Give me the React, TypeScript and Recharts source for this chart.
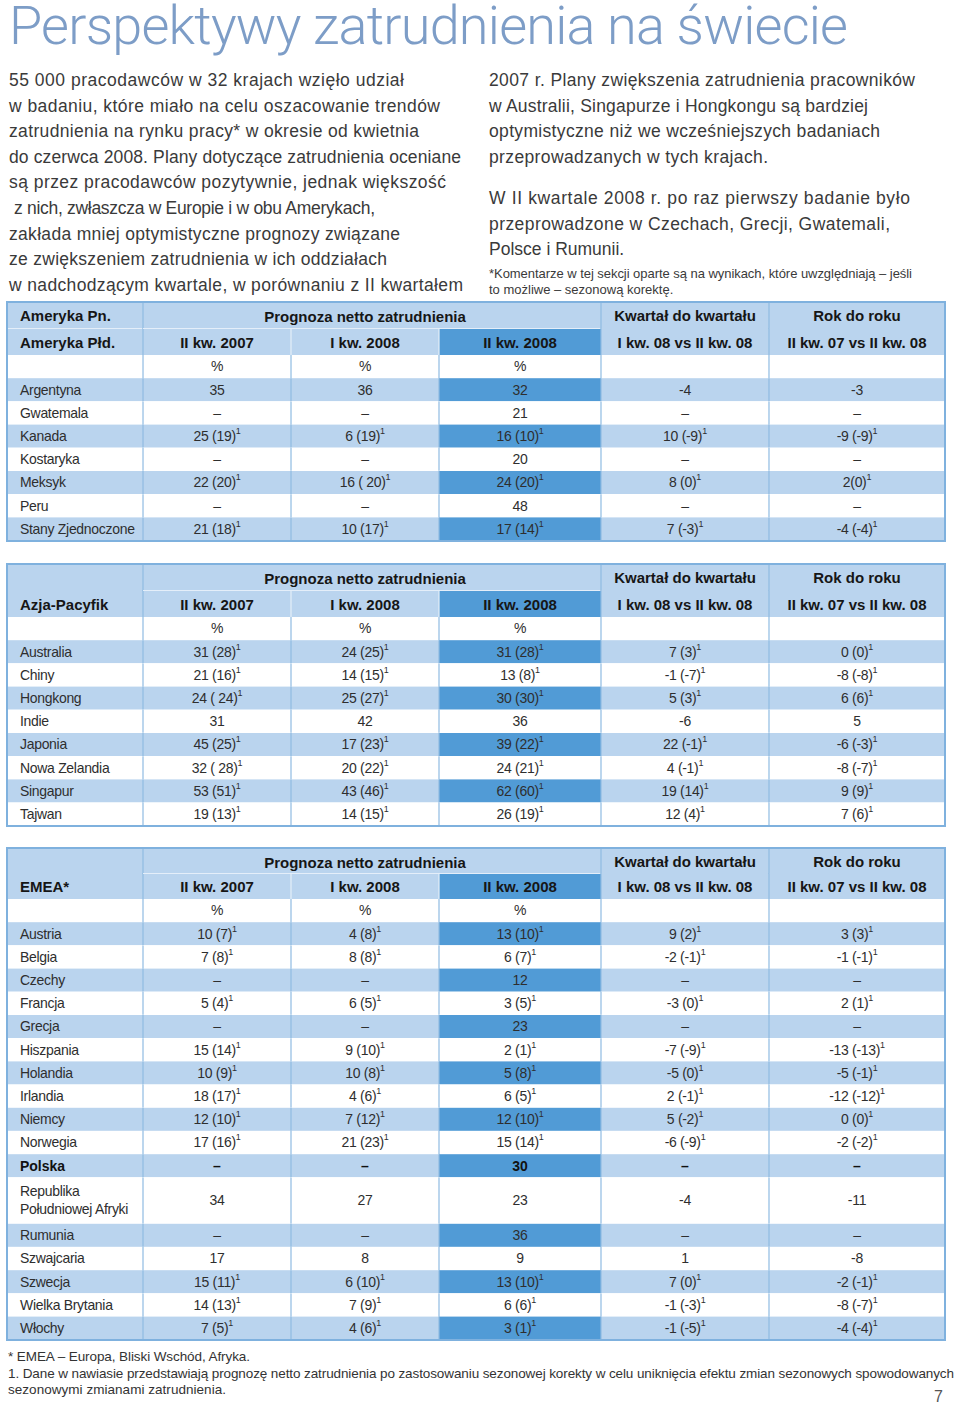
import React from "react";
import { BarChart, Bar, XAxis, YAxis } from "recharts";

const FONT = '"Liberation Sans", Arial, sans-serif';
const LIGHT = "#bad4ee";
const DARK = "#519bd6";
const GRID = "#8fbbe2";
const BORDER = "#7fb1de";
const INK = "#2e2e2e";

const COL_W = [136, 148, 148, 162, 168, 176];
const TOTAL_W = COL_W.reduce((s, w) => s + w, 0);
const ROW_H = 23.2;

// naglowki tabel
const forecastTitle = "Prognoza netto zatrudnienia";
const periodLabels = ["II kw. 2007", "I kw. 2008", "II kw. 2008"];
const qoqLabels = ["Kwartał do kwartału", "I kw. 08 vs II kw. 08"];
const yoyLabels = ["Rok do roku", "II kw. 07 vs II kw. 08"];
const unitLabel = "%";

// Ameryki
const amRegion = ["Ameryka Pn.", "Ameryka Płd."];
const amCountries = ["Argentyna", "Gwatemala", "Kanada", "Kostaryka", "Meksyk", "Peru", "Stany Zjednoczone"];
const amQ207 = ["35", "–", "25 (19)", "–", "22 (20)", "–", "21 (18)"];
const amQ108 = ["36", "–", "6 (19)", "–", "16 ( 20)", "–", "10 (17)"];
const amQ208 = ["32", "21", "16 (10)", "20", "24 (20)", "48", "17 (14)"];
const amQoQ = ["-4", "–", "10 (-9)", "–", "8 (0)", "–", "7 (-3)"];
const amYoY = ["-3", "–", "-9 (-9)", "–", "2(0)", "–", "-4 (-4)"];

// Azja-Pacyfik
const apRegion = ["Azja-Pacyfik"];
const apCountries = ["Australia", "Chiny", "Hongkong", "Indie", "Japonia", "Nowa Zelandia", "Singapur", "Tajwan"];
const apQ207 = ["31 (28)", "21 (16)", "24 ( 24)", "31", "45 (25)", "32 ( 28)", "53 (51)", "19 (13)"];
const apQ108 = ["24 (25)", "14 (15)", "25 (27)", "42", "17 (23)", "20 (22)", "43 (46)", "14 (15)"];
const apQ208 = ["31 (28)", "13 (8)", "30 (30)", "36", "39 (22)", "24 (21)", "62 (60)", "26 (19)"];
const apQoQ = ["7 (3)", "-1 (-7)", "5 (3)", "-6", "22 (-1)", "4 (-1)", "19 (14)", "12 (4)"];
const apYoY = ["0 (0)", "-8 (-8)", "6 (6)", "5", "-6 (-3)", "-8 (-7)", "9 (9)", "7 (6)"];

// EMEA
const emRegion = ["EMEA*"];
const emCountries = [
  "Austria", "Belgia", "Czechy", "Francja", "Grecja", "Hiszpania", "Holandia", "Irlandia", "Niemcy",
  "Norwegia", "Polska", "Republika Południowej Afryki", "Rumunia", "Szwajcaria", "Szwecja",
  "Wielka Brytania", "Włochy",
];
const emQ207 = ["10 (7)", "7 (8)", "–", "5 (4)", "–", "15 (14)", "10 (9)", "18 (17)", "12 (10)", "17 (16)", "–", "34", "–", "17", "15 (11)", "14 (13)", "7 (5)"];
const emQ108 = ["4 (8)", "8 (8)", "–", "6 (5)", "–", "9 (10)", "10 (8)", "4 (6)", "7 (12)", "21 (23)", "–", "27", "–", "8", "6 (10)", "7 (9)", "4 (6)"];
const emQ208 = ["13 (10)", "6 (7)", "12", "3 (5)", "23", "2 (1)", "5 (8)", "6 (5)", "12 (10)", "15 (14)", "30", "23", "36", "9", "13 (10)", "6 (6)", "3 (1)"];
const emQoQ = ["9 (2)", "-2 (-1)", "–", "-3 (0)", "–", "-7 (-9)", "-5 (0)", "2 (-1)", "5 (-2)", "-6 (-9)", "–", "-4", "–", "1", "7 (0)", "-1 (-3)", "-1 (-5)"];
const emYoY = ["3 (3)", "-1 (-1)", "–", "2 (1)", "–", "-13 (-13)", "-5 (-1)", "-12 (-12)", "0 (0)", "-2 (-2)", "–", "-11", "–", "-8", "-2 (-1)", "-8 (-7)", "-4 (-4)"];
const emBold = ["Polska"];
const emTall = ["Republika Południowej Afryki"];

const leftText = [
  "55 000 pracodawców w 32 krajach wzięło udział",
  "w badaniu, które miało na celu oszacowanie trendów",
  "zatrudnienia na rynku pracy* w okresie od kwietnia",
  "do czerwca 2008. Plany dotyczące zatrudnienia oceniane",
  "są przez pracodawców pozytywnie, jednak większość",
  "z nich, zwłaszcza w Europie i w obu Amerykach,",
  "zakłada mniej optymistyczne prognozy związane",
  "ze zwiększeniem zatrudnienia w ich oddziałach",
  "w nadchodzącym kwartale, w porównaniu z II kwartałem",
];
const rightText = [
  "2007 r. Plany zwiększenia zatrudnienia pracowników",
  "w Australii, Singapurze i Hongkongu są bardziej",
  "optymistyczne niż we wcześniejszych badaniach",
  "przeprowadzanych w tych krajach.",
  "W II kwartale 2008 r. po raz pierwszy badanie było",
  "przeprowadzone w Czechach, Grecji, Gwatemali,",
  "Polsce i Rumunii.",
];
const noteText = [
  "*Komentarze w tej sekcji oparte są na wynikach, które uwzględniają – jeśli",
  "to możliwe – sezonową korektę.",
];
const footText = [
  "* EMEA – Europa, Bliski Wschód, Afryka.",
  "1. Dane w nawiasie przedstawiają prognozę netto zatrudnienia po zastosowaniu sezonowej korekty w celu uniknięcia efektu zmian sezonowych spowodowanych",
  "sezonowymi zmianami zatrudnienia.",
];

type Row = {
  id: string;
  name: string;
  vals: string[];
  stripe: boolean;
  bold?: boolean;
  span?: number;
  cont?: boolean;
};

function withWidths(rows: Row[]) {
  return rows.map((r) => {
    const o: any = { ...r };
    COL_W.forEach((w, i) => (o["w" + i] = w));
    return o;
  });
}

function buildBody(
  countries: string[],
  cols: string[][],
  bold: string[] = [],
  tall: string[] = []
) {
  const rows: Row[] = [
    { id: "pct", name: "", vals: [unitLabel, unitLabel, unitLabel, "", ""], stripe: false },
  ];
  countries.forEach((c, i) => {
    const isTall = tall.includes(c);
    rows.push({
      id: "r" + i,
      name: c,
      vals: cols.map((col) => col[i]),
      stripe: i % 2 === 0,
      bold: bold.includes(c),
      span: isTall ? 2 : 1,
    });
    if (isTall) rows.push({ id: "r" + i + "b", name: "", vals: [], stripe: false, cont: true });
  });
  return withWidths(rows);
}

const CellText = ({ x, y, anchor, text, bold, size = 14 }: any) => {
  const sup = text.includes("(");
  return (
    <text
      x={x}
      y={y}
      textAnchor={anchor}
      dominantBaseline="central"
      fontFamily={FONT}
      fontSize={size}
      fontWeight={bold ? 700 : 400}
      letterSpacing={bold ? 0 : -0.3}
      fill={bold ? "#111" : INK}
    >
      {text}
      {sup && (
        <tspan fontSize={9} dy={-5}>
          1
        </tspan>
      )}
    </text>
  );
};

const HeadLabel = ({ x, y, anchor, text }: any) => (
  <text
    x={x}
    y={y}
    textAnchor={anchor}
    dominantBaseline="central"
    fontFamily={FONT}
    fontSize={15}
    fontWeight={700}
    fill="#161616"
  >
    {text}
  </text>
);

const headShape = (c: number, region: string[]) => (p: any) => {
  const { x, y, width, height, payload } = p;
  const second = payload.id === "h2";
  const fill = second && c === 3 ? DARK : LIGHT;
  let label = "";
  if (!second) {
    if (c === 0 && region.length > 1) label = region[0];
    if (c === 4) label = qoqLabels[0];
    if (c === 5) label = yoyLabels[0];
  } else {
    if (c === 0) label = region[region.length - 1];
    if (c >= 1 && c <= 3) label = periodLabels[c - 1];
    if (c === 4) label = qoqLabels[1];
    if (c === 5) label = yoyLabels[1];
  }
  const fullLine = c === 1 || c === 4 || c === 5;
  const innerLine = second && (c === 2 || c === 3);
  const topLine = second && ((c >= 1 && c <= 3) || (c === 0 && region.length > 1));
  // the spanning title is drawn with the last of its three columns so nothing covers it
  const spanTitle = !second && c === 3;
  return (
    <g>
      <rect x={x} y={y} width={width} height={height} fill={fill} />
      {fullLine && <line x1={x} x2={x} y1={y} y2={y + height} stroke={GRID} strokeWidth={1.2} />}
      {innerLine && <line x1={x} x2={x} y1={y} y2={y + height} stroke="#e4eef9" strokeWidth={1.2} />}
      {topLine && <line x1={x} x2={x + width} y1={y} y2={y} stroke="#e4eef9" strokeWidth={1.2} />}
      {label && (
        <HeadLabel
          x={c === 0 ? x + 13 : x + width / 2}
          y={y + height / 2}
          anchor={c === 0 ? "start" : "middle"}
          text={label}
        />
      )}
      {spanTitle && (
        <HeadLabel x={x - COL_W[2] / 2} y={y + height / 2 + 1} anchor="middle" text={forecastTitle} />
      )}
    </g>
  );
};

const bodyShape = (c: number) => (p: any) => {
  const { x, y, width, height, payload } = p;
  if (payload.cont) return <g />;
  const h = height * (payload.span || 1);
  const fill = payload.stripe ? (c === 3 ? DARK : LIGHT) : "#ffffff";
  const text = c === 0 ? payload.name : payload.vals[c - 1];
  const tall = (payload.span || 1) > 1 && c === 0;
  const sp = text.indexOf(" ");
  return (
    <g>
      <rect x={x} y={y} width={width} height={h} fill={fill} />
      {c > 0 && <line x1={x} x2={x} y1={y} y2={y + h} stroke={GRID} strokeWidth={1.2} />}
      {tall ? (
        <>
          <CellText x={x + 13} y={y + h / 2 - 9} anchor="start" text={text.slice(0, sp)} />
          <CellText x={x + 13} y={y + h / 2 + 9} anchor="start" text={text.slice(sp + 1)} />
        </>
      ) : (
        text && (
          <CellText
            x={c === 0 ? x + 13 : x + width / 2}
            y={y + h / 2}
            anchor={c === 0 ? "start" : "middle"}
            text={text}
            bold={payload.bold}
          />
        )
      )}
    </g>
  );
};

const Grid = ({ data, height, shape }: any) => (
  <BarChart
    width={TOTAL_W}
    height={height}
    data={data}
    layout="vertical"
    margin={{ top: 0, right: 0, bottom: 0, left: 0 }}
    barCategoryGap={0}
    barGap={0}
  >
    <XAxis type="number" domain={[0, TOTAL_W]} hide />
    <YAxis type="category" dataKey="id" hide />
    {COL_W.map((_, i) => (
      <Bar key={i} dataKey={"w" + i} stackId="t" isAnimationActive={false} shape={shape(i)} />
    ))}
  </BarChart>
);

const RegionTable = ({ top, headH, region, countries, cols, bold, tall }: any) => {
  const head = withWidths([
    { id: "h1", name: "", vals: [], stripe: false },
    { id: "h2", name: "", vals: [], stripe: false },
  ]);
  const body = buildBody(countries, cols, bold, tall);
  const bodyH = body.length * ROW_H;
  return (
    <div style={{ position: "absolute", left: 7, top, width: TOTAL_W }}>
      <Grid data={head} height={headH} shape={(i: number) => headShape(i, region)} />
      <Grid data={body} height={bodyH} shape={bodyShape} />
      <div
        style={{
          position: "absolute",
          left: -1,
          top: -1,
          width: TOTAL_W + 2,
          height: headH + bodyH + 2,
          border: `2px solid ${BORDER}`,
          boxSizing: "border-box",
          pointerEvents: "none",
        }}
      />
    </div>
  );
};

const leftLen = [395, 431, 410, 452, 437, 361, 391, 378, 454];
const rightLen = [426, 379, 391, 279, 421, 401, 0];
const rightY = [80, 106, 131, 157, 198, 224, 249];

export default function App() {
  return (
    <div style={{ position: "absolute", left: 0, top: 0, width: 960, height: 1406, background: "#fff" }}>
      <svg width={960} height={1406} style={{ position: "absolute", left: 0, top: 0 }}>
        <text x={9} y={44} fontFamily="Roboto, sans-serif" fontWeight={300} fontSize={54} fill="#7d9dc7" textLength={839}>
          Perspektywy zatrudnienia na świecie
        </text>
        {leftText.map((t, i) => (
          <text
            key={"l" + i}
            x={i === 5 ? 14 : 9}
            y={80 + i * 25.6}
            dominantBaseline="central"
            fontFamily={FONT}
            fontSize={17.5}
            fill="#3a3a3a"
            textLength={leftLen[i]}
          >
            {t}
          </text>
        ))}
        {rightText.map((t, i) => (
          <text
            key={"r" + i}
            x={489}
            y={rightY[i]}
            dominantBaseline="central"
            fontFamily={FONT}
            fontSize={17.5}
            fill="#3a3a3a"
            textLength={rightLen[i] || undefined}
          >
            {t}
          </text>
        ))}
        {noteText.map((t, i) => (
          <text
            key={"n" + i}
            x={489}
            y={273 + i * 16}
            dominantBaseline="central"
            fontFamily={FONT}
            fontSize={13}
            fill="#3a3a3a"
            textLength={i === 0 ? 423 : undefined}
          >
            {t}
          </text>
        ))}
        {footText.map((t, i) => (
          <text
            key={"f" + i}
            x={8}
            y={[1356, 1373, 1389][i]}
            dominantBaseline="central"
            fontFamily={FONT}
            fontSize={13.5}
            fill="#333"
            textLength={[242, 946, 218][i]}
          >
            {t}
          </text>
        ))}
        <text x={934} y={1396} dominantBaseline="central" fontFamily={FONT} fontSize={16} fill="#555">
          7
        </text>
      </svg>
      <RegionTable
        top={302}
        headH={53}
        region={amRegion}
        countries={amCountries}
        cols={[amQ207, amQ108, amQ208, amQoQ, amYoY]}
      />
      <RegionTable
        top={564}
        headH={53}
        region={apRegion}
        countries={apCountries}
        cols={[apQ207, apQ108, apQ208, apQoQ, apYoY]}
      />
      <RegionTable
        top={848}
        headH={51}
        region={emRegion}
        countries={emCountries}
        cols={[emQ207, emQ108, emQ208, emQoQ, emYoY]}
        bold={emBold}
        tall={emTall}
      />
    </div>
  );
}
